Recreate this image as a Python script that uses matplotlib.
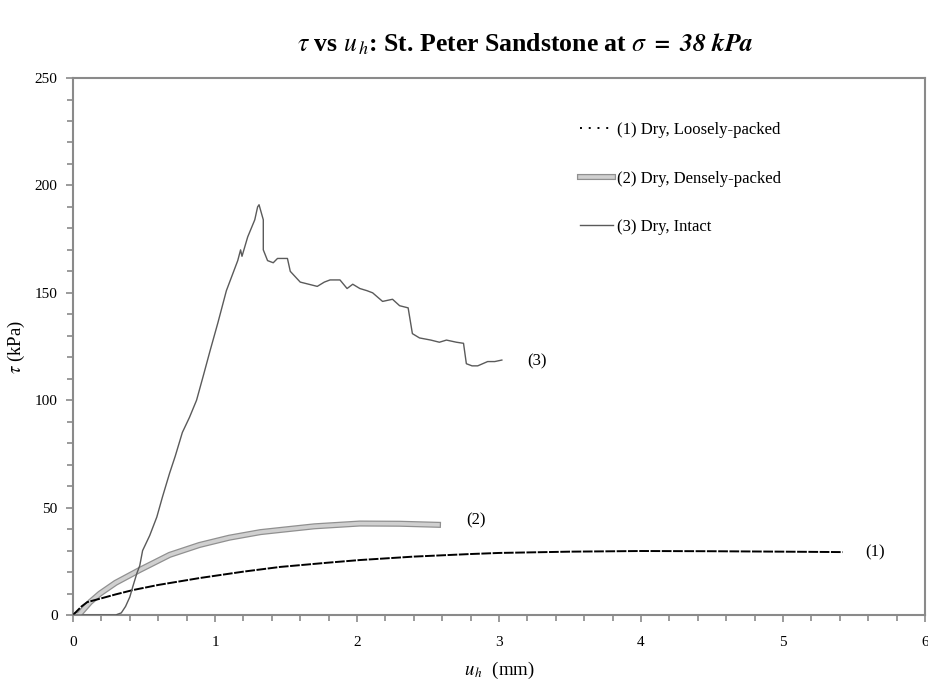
import matplotlib
matplotlib.use('Agg')
import matplotlib.pyplot as plt
import matplotlib.patheffects as pe
from matplotlib.lines import Line2D
from matplotlib.ticker import MultipleLocator

plt.rcParams['font.family'] = ['Liberation Serif', 'DejaVu Serif']
plt.rcParams['mathtext.fontset'] = 'stix'

# (1) seco, solto
u1 = [0, 0.03, 0.06, 0.10, 0.19, 0.30, 0.42, 0.60, 0.89, 1.20, 1.46, 1.80, 2.02, 2.40,
      2.80, 3.00, 3.50, 4.00, 4.50, 5.00, 5.42]
t1 = [0, 2.0, 4.0, 6.0, 7.6, 9.6, 11.6, 14.0, 17.2, 20.2, 22.4, 24.4, 25.6, 27.2,
      28.4, 28.9, 29.5, 29.8, 29.7, 29.5, 29.3]

# (2) seco, denso
u2 = [0, 0.04, 0.08, 0.12, 0.19, 0.30, 0.47, 0.68, 0.89, 1.10, 1.32, 1.46, 1.70, 2.02,
      2.30, 2.57]
t2 = [0, 0, 3.0, 6.0, 10.0, 15.0, 21.0, 28.0, 32.6, 36.0, 38.6, 39.6, 41.3, 42.6,
      42.5, 42.0]

# (3) seco, intacto
u3 = [0, 0.30, 0.34, 0.37, 0.40, 0.42, 0.45, 0.47, 0.49, 0.54, 0.59, 0.63, 0.68, 0.72,
      0.77, 0.82, 0.87, 0.92, 0.965, 1.02, 1.08, 1.12, 1.16,
      1.18, 1.19, 1.23, 1.28, 1.30, 1.31, 1.34, 1.34, 1.37, 1.41, 1.44, 1.46, 1.51, 1.53,
      1.60, 1.66, 1.72, 1.77, 1.81, 1.88, 1.93, 1.97, 2.02, 2.07, 2.11, 2.18, 2.25, 2.30,
      2.36, 2.39, 2.44, 2.52, 2.58, 2.63, 2.70, 2.75, 2.77, 2.81, 2.85, 2.92, 2.97, 3.02]
t3 = [0, 0, 1.0, 4.0, 8.4, 13.0, 19.5, 23.0, 30.0, 37.0, 45.6, 55.0, 66.0, 74.0,
      85.0, 92.0, 100.0, 112.0, 123.0, 136.0, 151.0, 158.0, 165.0,
      170.0, 167.0, 176.0, 184.0, 190.0, 191.0, 184.0, 170.0, 165.0, 164.0, 166.0, 166.0, 166.0, 160.0,
      155.0, 154.0, 153.0, 155.0, 156.0, 156.0, 152.0, 154.0, 152.0, 151.0, 150.0, 146.0, 147.0, 144.0,
      143.0, 131.0, 129.0, 128.0, 127.0, 128.0, 127.0, 126.5, 117.0, 116.0, 116.0, 118.0, 118.0, 118.7]

nomes = ['(1) Dry, Loosely-packed', '(2) Dry, Densely-packed', '(3) Dry, Intact']
rotulos = ['(1)', '(2)', '(3)']
pos_rotulos = [(5.58, 29), (2.77, 44), (3.2, 118)]

cor_frame = '#8a8a8a'
cor_intacto = '#5a5a5a'
efeito_denso = [pe.Stroke(linewidth=4.4, foreground='#909090'), pe.Normal()]

fig = plt.figure(figsize=(9.29, 6.82), dpi=100)
ax = fig.add_axes([0.0786, 0.0982, 0.9171, 0.7874])

ax.plot(u1, t1, color='black', linewidth=1.4, linestyle=(0, (5, 0.8)), zorder=4)
ax.plot(u2, t2, color='#d0d0d0', linewidth=2.6, path_effects=efeito_denso, zorder=3)
ax.plot(u3, t3, color=cor_intacto, linewidth=1.0, zorder=5)

for txt, (x, y) in zip(rotulos, pos_rotulos):
    ax.text(x, y, txt, fontsize=12, va='center', ha='left')

#eixos
ax.set_xlim(0, 6)
ax.set_ylim(0, 250)
ax.xaxis.set_major_locator(MultipleLocator(1))
ax.xaxis.set_minor_locator(MultipleLocator(0.2))
ax.yaxis.set_major_locator(MultipleLocator(50))
ax.yaxis.set_minor_locator(MultipleLocator(10))
ax.tick_params(which='both', direction='out', color=cor_frame, width=1.2, labelsize=11)
ax.tick_params(which='major', length=5)
ax.tick_params(which='minor', length=4)
ax.tick_params(axis='x', pad=10)
ax.tick_params(axis='y', pad=6)
for s in ax.spines.values():
    s.set_color(cor_frame)
    s.set_linewidth(1.5)

ax.set_xlabel(r'$u_{\,h}$  (mm)', fontsize=13.5, labelpad=8)
ax.set_ylabel(r'$\tau$ (kPa)', fontsize=13.5, labelpad=6)

fig.text(0.565, 0.935, r'$\tau$ vs $u_{\,h}$: St. Peter Sandstone at $\sigma$ $\mathbfit{=\ 38\ kPa}$',
         fontsize=18.5, fontweight='bold', ha='center', va='center')

#legenda feita na mao
h1 = Line2D([], [], color='black', linewidth=1.4, linestyle=(0, (1, 3.5)))
h2 = Line2D([], [], color='#d0d0d0', linewidth=2.6, path_effects=efeito_denso)
h3 = Line2D([], [], color=cor_intacto, linewidth=1.0)
ax.legend([h1, h2, h3], nomes, loc='upper left', bbox_to_anchor=(0.595, 0.918),
          frameon=False, fontsize=12, labelspacing=1.95, handlelength=2.0,
          handletextpad=0.2, borderpad=0, borderaxespad=0)

fig.savefig('out.png', dpi=100)
